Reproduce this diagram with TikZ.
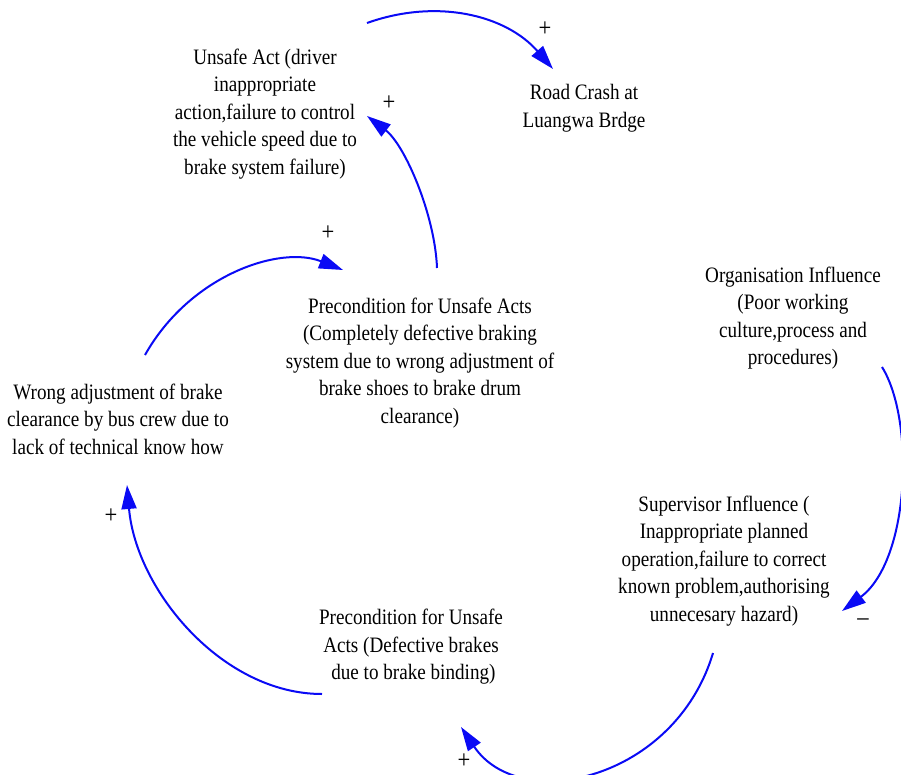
\documentclass[tikz,border=0pt]{standalone}
\usepackage{fontspec}
\setmainfont{Liberation Serif}[FakeStretch=0.87]
\usetikzlibrary{arrows.meta}
\definecolor{linkblue}{RGB}{10,10,245}
\tikzset{
  var/.style={align=center, inner sep=0pt, font=\fontsize{22}{27.5}\selectfont},
  pol/.style={inner sep=0pt, font=\fontsize{26}{26}\selectfont},
  neg/.style={inner sep=0pt, font=\fontsize{26}{26}\selectfont},
  link/.style={draw=linkblue, line width=2pt, -{Triangle[length=24pt,width=15pt]}}
}
\begin{document}
\begin{tikzpicture}[x=1pt,y=-1pt]
\useasboundingbox (0,0) rectangle (901,775);
\fill[white] (0,0) rectangle (901,775);

\node[var] (unsafe) at (265,114) {Unsafe Act (driver\\inappropriate\\action,failure to control\\the vehicle speed due to\\brake system failure)};
\node[var] (crash) at (584,108) {Road Crash at\\Luangwa Brdge};
\node[var] (precA) at (420,363) {Precondition for Unsafe Acts\\(Completely defective braking\\system due to wrong adjustment of\\brake shoes to brake drum\\clearance)};
\node[var] (wrong) at (118,419) {Wrong adjustment of brake\\clearance by bus crew due to\\lack of technical know how};
\node[var] (org) at (793,318) {Organisation Influence\\(Poor working\\culture,process and\\procedures)};
\node[var] (sup) at (724,561) {Supervisor Influence (\\Inappropriate planned\\operation,failure to correct\\known problem,authorising\\unnecesary hazard)};
\node[var] (precB) at (411,647) {Precondition for Unsafe\\Acts (Defective brakes\\\ due to brake binding)};

\coordinate (s1) at (367,23);  \coordinate (e1) at (553,69);
\coordinate (s2) at (437,268); \coordinate (e2) at (367,116);
\coordinate (s3) at (145,355); \coordinate (e3) at (343,270);
\coordinate (s4) at (322,694); \coordinate (e4) at (127,485);
\coordinate (s5) at (713,653); \coordinate (e5) at (461,727);
\coordinate (s6) at (882,367); \coordinate (e6) at (842,611);

\draw[link] (s1) .. controls (437,-2) and (506,15) .. (e1);
\draw[link] (s2) .. controls (435,215) and (405,145) .. (e2);
\draw[link] (s3) .. controls (190,275) and (280,245) .. (e3);
\draw[link] (s4) .. controls (222,694) and (136,590) .. (e4);
\draw[link] (s5) .. controls (675,780) and (520,815) .. (e5);
\draw[link] (s6) .. controls (915,420) and (910,560) .. (e6);

\node[pol] (p1) at (545,29) {+};
\node[pol] (p2) at (389,103) {+};
\node[pol] (p3) at (328,233) {+};
\node[pol] (p4) at (111,516) {+};
\node[pol] (p5) at (464,761) {+};
\node[neg] (m6) at (863,622) {–};
\end{tikzpicture}
\end{document}
